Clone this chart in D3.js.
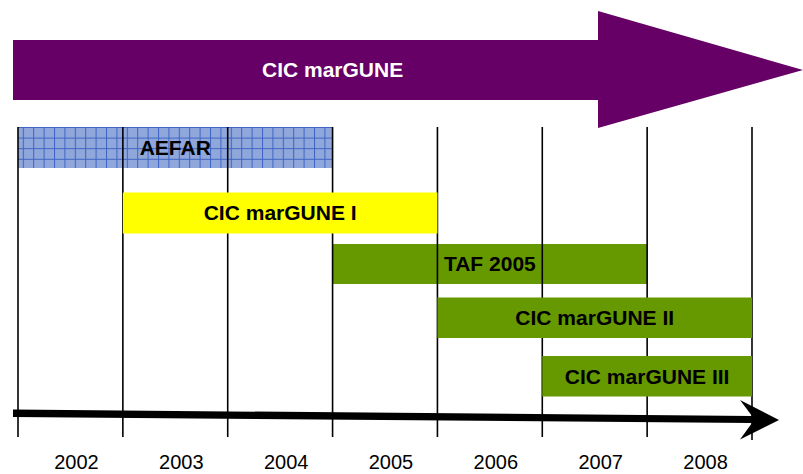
<!DOCTYPE html>
<html>
<head>
<meta charset="utf-8">
<script src="https://cdn.jsdelivr.net/npm/d3@7"></script>
<style>
  html, body { margin: 0; padding: 0; background: #ffffff; }
  svg { display: block; }
</style>
</head>
<body>
<svg id="chart" width="803" height="474"></svg>
<script>
// ---- data ----
const years = [2002, 2003, 2004, 2005, 2006, 2007, 2008];
const yearTickLabels = ["2002", "2003", "2004", "2005", "2006", "2007", "2008"];
const programmeNames = ["AEFAR", "CIC marGUNE I", "TAF 2005", "CIC marGUNE II", "CIC marGUNE III"];
const programmeStart = [2002, 2003, 2005, 2006, 2007];
const programmeEnd   = [2005, 2006, 2008, 2009, 2009];
const umbrellaName = "CIC marGUNE";
const umbrellaLabelAt = 2005;

// ---- layout ----
const svg = d3.select("#chart");
const W = 803, H = 474;
const x = d3.scaleLinear().domain([2002, 2009]).range([18, 752]);
const rowY = d3.scaleBand().domain(d3.range(programmeNames.length))
  .range([127, 397]).paddingInner(0); // rows computed then adjusted below
const rowTops = [127, 192.5, 244, 297.5, 356];
const barH = [41, 41, 40, 40.5, 40.5];
const fills = ["url(#aefarGrid)", "#ffff00", "#669900", "#669900", "#669900"];
const behindLines = new Set(["AEFAR", "TAF 2005"]);
const font = "'Liberation Sans', Arial, sans-serif";

// pattern for AEFAR
const defs = svg.append("defs");
const pat = defs.append("pattern").attr("id", "aefarGrid")
  .attr("patternUnits", "userSpaceOnUse").attr("width", 10.4).attr("height", 10.6)
  .attr("x", 2).attr("y", 127);
pat.append("rect").attr("width", 10.4).attr("height", 10.6).attr("fill", "#8fa7da");
pat.append("path").attr("d", "M0,0.5 H10.4 M0.5,0 V10.6")
  .attr("stroke", "#3f63c4").attr("stroke-width", 1).attr("fill", "none");

// top umbrella arrow
const x0 = x(2002) - 5;
const headBase = 598, tip = W;
svg.append("path")
  .attr("d", `M${x0},40 L${headBase},40 L${headBase},11 L${tip},70 L${headBase},128 L${headBase},100 L${x0},100 Z`)
  .attr("fill", "#660066");
svg.append("text")
  .attr("x", x(umbrellaLabelAt)).attr("y", 70).attr("dy", "0.35em")
  .attr("text-anchor", "middle")
  .attr("font-family", font).attr("font-weight", "bold").attr("font-size", 21)
  .attr("fill", "#ffffff").text(umbrellaName);

const data = programmeNames.map((n, i) => ({ name: n, start: programmeStart[i], end: programmeEnd[i], i }));

function drawBars(sel) {
  const g = svg.append("g").selectAll("g").data(sel).join("g");
  g.append("rect")
    .attr("x", d => x(d.start)).attr("y", d => rowTops[d.i])
    .attr("width", d => x(d.end) - x(d.start)).attr("height", d => barH[d.i])
    .attr("fill", d => fills[d.i]);
  return g;
}
function drawLabels(sel) {
  svg.append("g").selectAll("text").data(sel).join("text")
    .attr("x", d => (x(d.start) + x(d.end)) / 2)
    .attr("y", d => rowTops[d.i] + barH[d.i] / 2).attr("dy", "0.35em")
    .attr("text-anchor", "middle")
    .attr("font-family", font).attr("font-weight", "bold").attr("font-size", 21)
    .attr("fill", "#000000").text(d => d.name);
}

const back = data.filter(d => behindLines.has(d.name));
const front = data.filter(d => !behindLines.has(d.name));
drawBars(back);

// vertical year boundary lines
const bounds = years.concat([2009]);
svg.append("g").selectAll("line").data(bounds).join("line")
  .attr("x1", d => x(d)).attr("x2", d => x(d))
  .attr("y1", 127).attr("y2", d => d === 2009 ? 440 : 437)
  .attr("stroke", "#000").attr("stroke-width", 1.6);

drawBars(front);
drawLabels(back);
drawLabels(front);

// bottom time arrow
const sx = x(2002) - 5, ex = x(2009);
svg.append("path")
  .attr("d", `M${sx},409.5 L${ex},416 L${ex - 12},400 L${x(2009) + 27},420 L${ex - 12},439.5 L${ex},423 L${sx},417 Z`)
  .attr("fill", "#000");

// year labels
const step = x(2003) - x(2002);
svg.append("g").selectAll("text").data(years).join("text")
  .attr("x", (d) => x(d) + step / 2 + 6).attr("y", 469)
  .attr("text-anchor", "middle")
  .attr("font-family", font).attr("font-size", 20).attr("fill", "#000")
  .text((d, i) => yearTickLabels[i]);
</script>
</body>
</html>
